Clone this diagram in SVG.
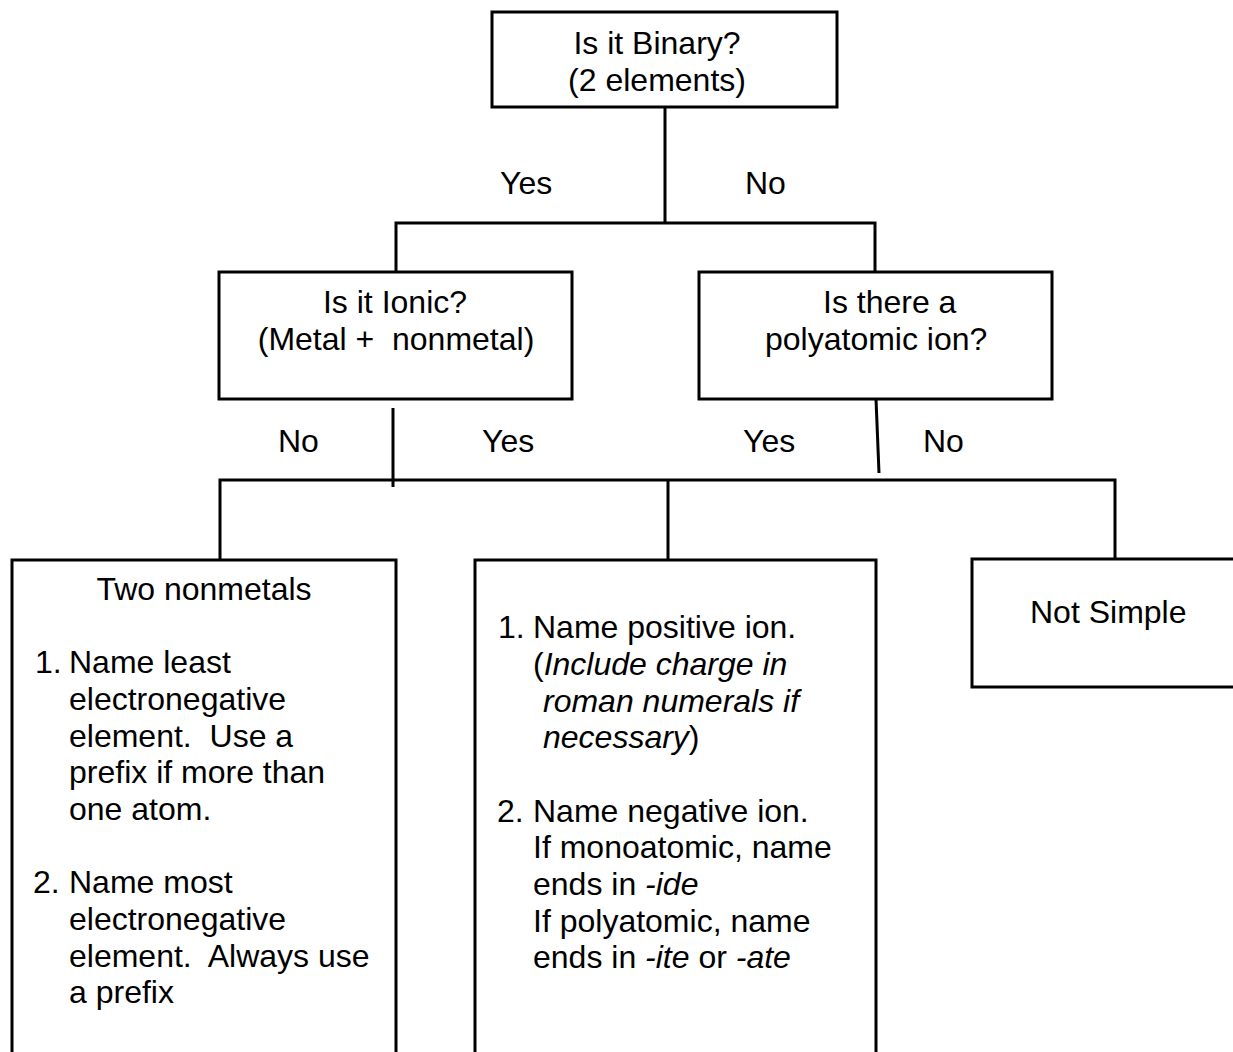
<svg xmlns="http://www.w3.org/2000/svg" width="1233" height="1052" viewBox="0 0 1233 1052">
<style>
.box{fill:#fff;stroke:#000;stroke-width:3}
.ln{fill:none;stroke:#000;stroke-width:3}
text{font-family:"Liberation Sans",Arial,sans-serif;font-size:32px;fill:#000}
.c{text-anchor:middle}
.i{font-style:italic}
</style>
<rect width="1233" height="1052" fill="#fff"/>
<g id="connectors">
<path class="ln" d="M665 107V223M396 272V223H875V272"/>
<path class="ln" d="M393 408V487"/>
<path class="ln" d="M876 399L879 473"/>
<path class="ln" d="M220 560V480H1115V559M668 480V560"/>
<text x="500" y="194">Yes</text>
<text x="745" y="194">No</text>
<text x="278" y="452">No</text>
<text x="482" y="452">Yes</text>
<text x="743" y="452">Yes</text>
<text x="923" y="452">No</text>
</g>
<g id="binary">
<rect class="box" x="492" y="12" width="345" height="95"/>
<text class="c" x="657" y="54">Is it Binary?</text>
<text class="c" x="657" y="91">(2 elements)</text>
</g>
<g id="ionic">
<rect class="box" x="219" y="272" width="353" height="127"/>
<text class="c" x="395" y="313">Is it Ionic?</text>
<text class="c" x="396" y="350" xml:space="preserve">(Metal +  nonmetal)</text>
</g>
<g id="polyatomic">
<rect class="box" x="699" y="272" width="353" height="127"/>
<text x="823" y="313">Is there a</text>
<text x="765" y="350">polyatomic ion?</text>
</g>
<g id="nonmetals">
<rect class="box" x="12" y="560" width="384" height="510"/>
<text class="c" x="204" y="600">Two nonmetals</text>
<text x="35" y="673">1.</text>
<text x="69" y="673">Name least</text>
<text x="69" y="710">electronegative</text>
<text x="69" y="747" xml:space="preserve">element.  Use a</text>
<text x="69" y="783">prefix if more than</text>
<text x="69" y="820">one atom.</text>
<text x="33" y="893">2.</text>
<text x="69" y="893">Name most</text>
<text x="69" y="930">electronegative</text>
<text x="69" y="967" xml:space="preserve">element.  Always use</text>
<text x="69" y="1003">a prefix</text>
</g>
<g id="ionicnaming">
<rect class="box" x="475" y="560" width="401" height="510"/>
<text x="498" y="638">1.</text>
<text x="533" y="638">Name positive ion.</text>
<text x="533" y="675">(<tspan class="i">Include charge in</tspan></text>
<text x="543" y="712" class="i">roman numerals if</text>
<text x="543" y="748"><tspan class="i">necessary</tspan>)</text>
<text x="497" y="822">2.</text>
<text x="533" y="822">Name negative ion.</text>
<text x="533" y="858">If monoatomic, name</text>
<text x="533" y="895">ends in <tspan class="i">-ide</tspan></text>
<text x="533" y="932">If polyatomic, name</text>
<text x="533" y="968">ends in <tspan class="i">-ite</tspan> or <tspan class="i">-ate</tspan></text>
</g>
<g id="notsimple">
<rect class="box" x="972" y="559" width="280" height="128"/>
<text x="1030" y="623">Not Simple</text>
</g>
</svg>
